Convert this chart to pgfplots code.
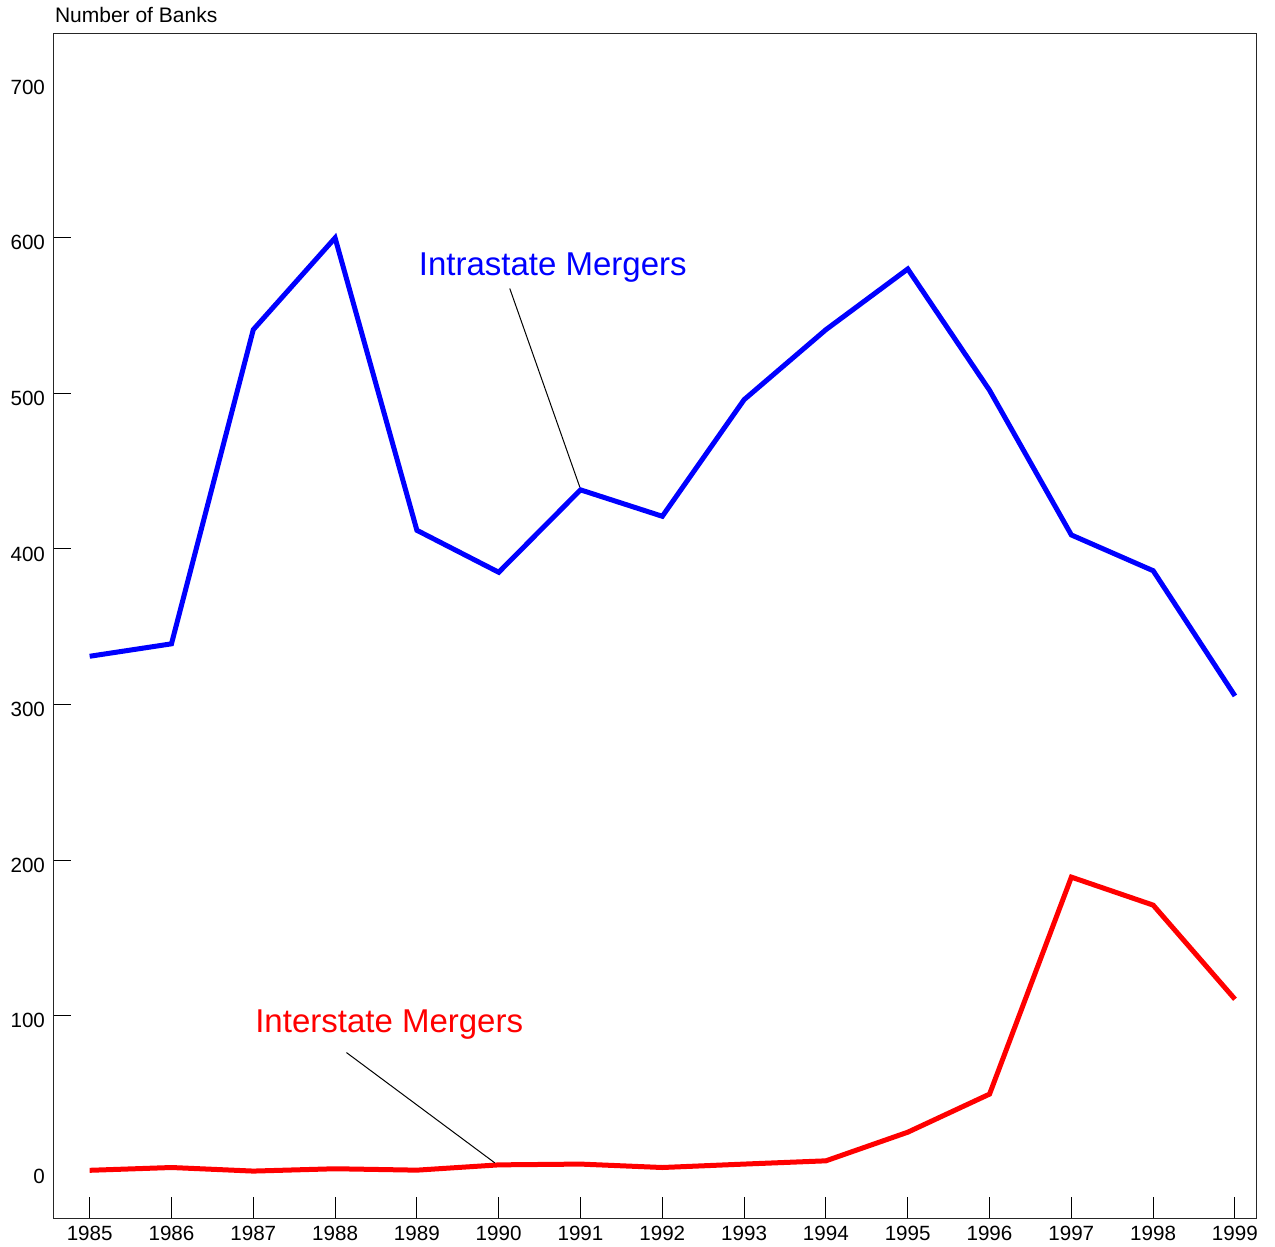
\documentclass[border=0pt]{standalone}
\usepackage{fontspec}
\setmainfont{Liberation Sans}
\usepackage{pgfplots}
\pgfplotsset{compat=1.18}
\begin{document}
\begin{tikzpicture}
\path[use as bounding box] (-27pt,-14pt) rectangle (610.5pt,609.5pt);
\pgfplotsset{
  common/.style={
    at={(0,0)}, anchor=south west,
    scale only axis, width=601pt, height=592.5pt,
    xmin=1984.564, xmax=1999.257, ymin=-30.8, ymax=731.1,
    /pgf/number format/assume math mode=true,
    /pgf/number format/1000 sep={},
    ticklabel style={font=\fontsize{10.3}{12}\selectfont},
  }
}
\begin{axis}[
  common,
  clip=false,
  axis line style={line width=0.5pt, black!85},
  tick align=inside, xtick pos=bottom, ytick pos=left,
  major tick length=8.5pt,
  xtick={1985,...,1999},
  ytick={100,200,...,600},
  yticklabels={},
  xtick style={/pgfplots/major tick length=11pt, black, line width=0.5pt},
  ytick style={black, line width=0.5pt},
]
\addplot[blue, line width=2.5pt] coordinates {
(1985,331) (1986,339) (1987,541) (1988,600) (1989,412) (1990,385) (1991,438)
(1992,421) (1993,496) (1994,541) (1995,580) (1996,502) (1997,409) (1998,386) (1999,305.5)
};
\addplot[red, line width=2.5pt] coordinates {
(1985,0.5) (1986,2.3) (1987,0) (1988,1.5) (1989,0.6) (1990,4) (1991,4.5)
(1992,2.3) (1993,4.5) (1994,6.6) (1995,25) (1996,49.5) (1997,189) (1998,171) (1999,110.5)
};
\draw[black, line width=0.5pt] (axis cs:1990.135,567.5) -- (axis cs:1990.991,439.8);
\draw[black, line width=0.5pt] (axis cs:1988.139,76.2) -- (axis cs:1989.952,5.3);
\node[anchor=base west, inner sep=0pt, text=blue, font=\fontsize{16.5}{19}\selectfont] at (axis cs:1989.02,576.0) {Intrastate Mergers};
\node[anchor=base west, inner sep=0pt, text=red, font=\fontsize{16.5}{19}\selectfont] at (axis cs:1987.02,89.1) {Interstate Mergers};
\node[anchor=base west, inner sep=0pt, font=\fontsize{10.5}{12}\selectfont] at (axis cs:1984.572,738.2) {Number of Banks};
\end{axis}
\begin{axis}[
  common,
  axis line style={draw=none},
  xtick=\empty,
  ytick={0,100,...,700},
  ytick pos=left,
  major tick length=0pt,
  ytick style={draw=none},
  yticklabel style={yshift=-2.5pt, xshift=-1pt},
]
\end{axis}
\end{tikzpicture}
\end{document}
